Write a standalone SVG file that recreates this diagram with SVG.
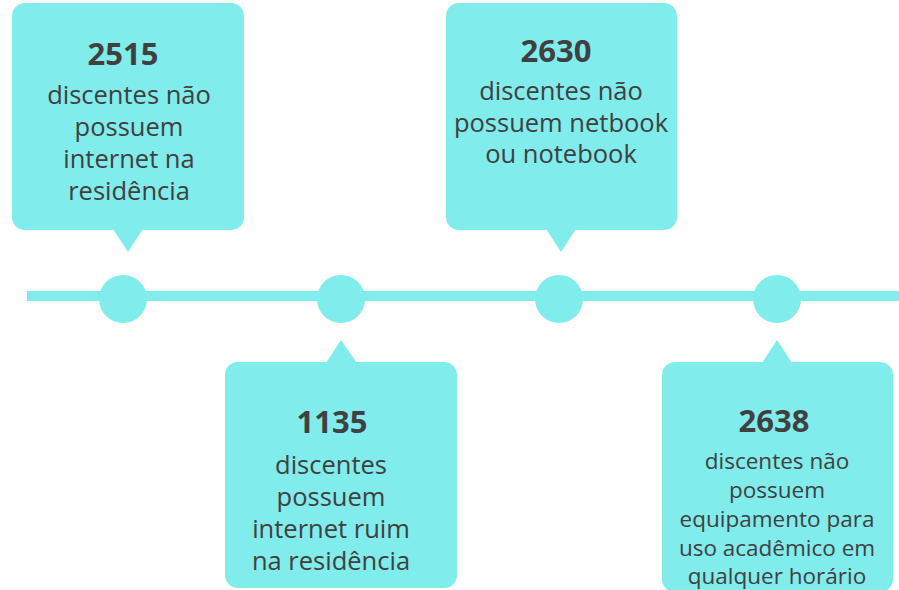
<svg xmlns="http://www.w3.org/2000/svg" width="899" height="590" viewBox="0 0 899 590">
<style>
.shape{fill:#80ECEC}
.num{font-family:"Open Sans","Liberation Sans",sans-serif;font-weight:bold;font-size:31px;fill:#404040;text-anchor:middle}
.txt{font-family:"Open Sans","Liberation Sans",sans-serif;font-size:25.5px;fill:#404040;text-anchor:middle}
.sm{font-size:22.5px}
</style>
<rect width="899" height="590" fill="#ffffff"/>
<g id="connectors">
<rect class="shape" x="27" y="291" width="872" height="10"/>
</g>
<g id="node1">
<rect class="shape" x="12" y="3" width="232" height="227" rx="13"/>
<polygon class="shape" points="113,229 143,229 128,252"/>
<circle class="shape" cx="123" cy="299" r="24"/>
<text class="num" x="123" y="65">2515</text>
<text class="txt" x="129" y="104">discentes não</text>
<text class="txt" x="129" y="136">possuem</text>
<text class="txt" x="129" y="168">internet na</text>
<text class="txt" x="129" y="200">residência</text>
</g>
<g id="node2">
<rect class="shape" x="225" y="362" width="232" height="226" rx="13"/>
<polygon class="shape" points="326,363 357,363 341,340"/>
<circle class="shape" cx="341" cy="299" r="24"/>
<text class="num" x="332" y="433">1135</text>
<text class="txt" x="331" y="474">discentes</text>
<text class="txt" x="331" y="506">possuem</text>
<text class="txt" x="331" y="538">internet ruim</text>
<text class="txt" x="331" y="570">na residência</text>
</g>
<g id="node3">
<rect class="shape" x="446" y="3" width="231" height="227" rx="13"/>
<polygon class="shape" points="546,229 576,229 561,252"/>
<circle class="shape" cx="559" cy="299" r="24"/>
<text class="num" x="556" y="62">2630</text>
<text class="txt" x="561" y="100">discentes não</text>
<text class="txt" x="561" y="132">possuem netbook</text>
<text class="txt" x="561" y="163">ou notebook</text>
</g>
<g id="node4">
<rect class="shape" x="662" y="362" width="231" height="230" rx="13"/>
<polygon class="shape" points="762,363 792,363 777,340"/>
<circle class="shape" cx="777" cy="299" r="24"/>
<text class="num" x="774" y="432">2638</text>
<text class="txt sm" x="777" y="469">discentes não</text>
<text class="txt sm" x="777" y="498">possuem</text>
<text class="txt sm" x="777" y="527">equipamento para</text>
<text class="txt sm" x="777" y="556">uso acadêmico em</text>
<text class="txt sm" x="777" y="584">qualquer horário</text>
</g>
</svg>
